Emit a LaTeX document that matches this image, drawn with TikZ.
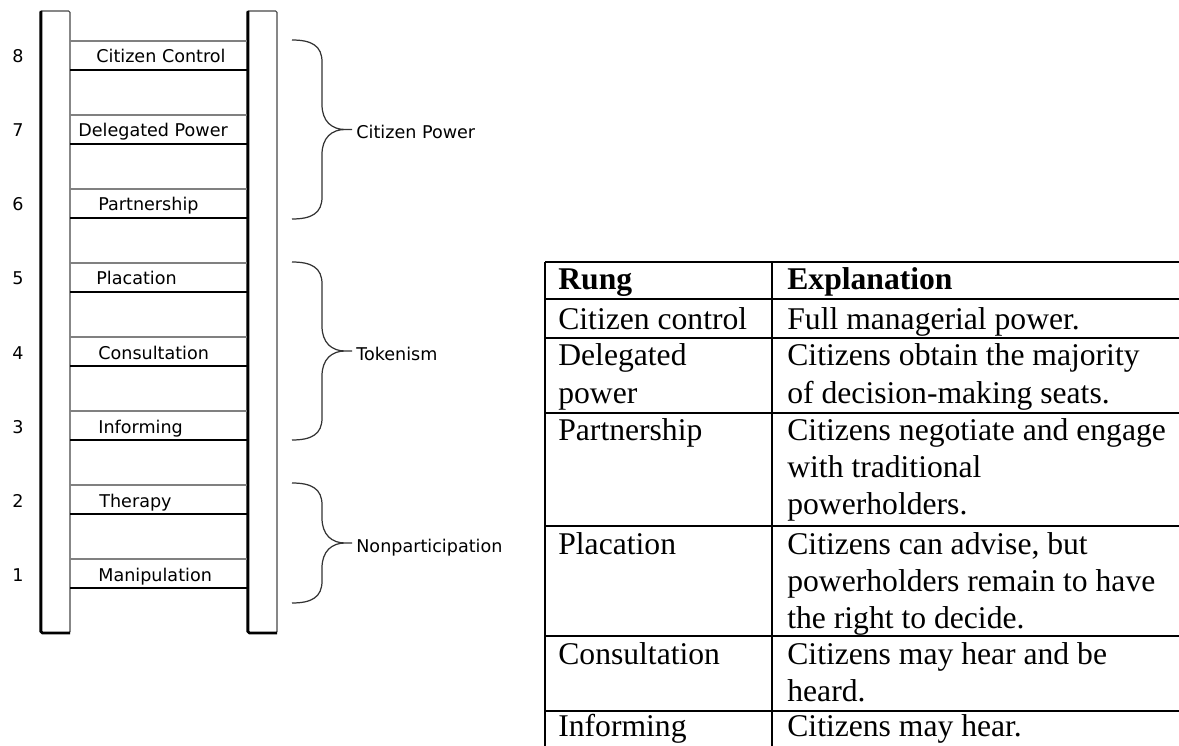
\documentclass[tikz,border=0pt]{standalone}
\usepackage{fontspec}
\setmainfont{Liberation Serif}
\newfontfamily\ladderfont{DejaVu Sans}

\definecolor{rungGrey}{RGB}{128,128,128}
\definecolor{railGrey}{RGB}{70,70,70}

\tikzset{
	rail/.style={draw=railGrey, line width=0.6pt, rounded corners=0.8pt},
	railshade/.style={line width=1.5pt, rounded corners=0.8pt},
	rungtop/.style={draw=rungGrey, line width=0.8pt},
	rungbot/.style={draw=black, line width=1.1pt},
	curly/.style={draw=black!80, line width=0.7pt},
	rungtxt/.style={font=\ladderfont\fontsize{10}{12}\selectfont, inner sep=0pt, anchor=base west},
	celltxt/.style={font=\fontsize{18}{21}\selectfont, inner sep=0pt, anchor=base west},
	tabline/.style={line width=1.1pt},
}

\begin{document}
\begin{tikzpicture}[x=0.02cm, y=-0.02cm]
		\useasboundingbox (0,0) rectangle (1179,746);
		\clip (0,0) rectangle (1179,746);

		% ladder
		\draw[rail] (40,11) rectangle (70,633);
		\draw[rail] (247,11) rectangle (277,633);
		\draw[railshade] (41,11) -- (41,633) -- (70,633);
		\draw[railshade] (248,11) -- (248,633) -- (277,633);

		\foreach \n/\txt/\lx [count=\i] in {8/Citizen Control/96, 7/Delegated Power/78, 6/Partnership/98, 5/Placation/96, 4/Consultation/98, 3/Informing/98, 2/Therapy/99, 1/Manipulation/98} {
			\pgfmathsetmacro\yb{70+74*(\i-1)}
			\draw[rungtop] (70,\yb-29) -- (247,\yb-29);
			\draw[rungbot] (70,\yb) -- (247,\yb);
			\node[rungtxt] (num\n) at (12,\yb-7) {\n};
			\node[rungtxt] (rung\n) at (\lx,\yb-7) {\txt};
		}

		% braces
		\foreach \t/\m/\b/\lab/\nm in {40/129.5/219/Citizen Power/power, 262/351/440/Tokenism/token, 483/543/603/Nonparticipation/nonpart} {
			\draw[curly] (292,\t) .. controls (312,\t) and (322,\t+6) .. (322,\t+22)
				-- (322,\m-25) .. controls (322,\m-8) and (332,\m) .. (345,\m) -- (352,\m)
				(345,\m) .. controls (332,\m) and (322,\m+8) .. (322,\m+25)
				-- (322,\b-22) .. controls (322,\b-6) and (312,\b) .. (292,\b);
			\node[rungtxt] (\nm) at (356,\m+9) {\lab};
		}

		% table
		\foreach \y in {262,299,338,413,526,636,711}
			\draw[tabline] (545,\y) -- (1185,\y);
		\draw[tabline] (545,262) -- (545,750);
		\draw[tabline] (772,262) -- (772,750);

		\node[celltxt] (headRung) at (558,290) {\bfseries Rung};
		\node[celltxt] (headExpl) at (787,290) {\bfseries Explanation};

		\foreach \y/\txt [count=\k] in {330/Citizen control, 365/Delegated, 403/power, 440/Partnership, 554/Placation, 664/Consultation, 736/Informing}
			\node[celltxt] (rungcell\k) at (558,\y) {\txt};

		\foreach \y/\txt [count=\k] in {330/Full managerial power., 365/Citizens obtain the majority, 403/of decision-making seats., 440/Citizens negotiate and engage, 477/with traditional, 514/powerholders., 554/{Citizens can advise, but}, 591/powerholders remain to have, 628/the right to decide., 664/Citizens may hear and be, 701/heard., 736/Citizens may hear.}
			\node[celltxt] (explcell\k) at (787,\y) {\txt};
	\end{tikzpicture}
\end{document}
